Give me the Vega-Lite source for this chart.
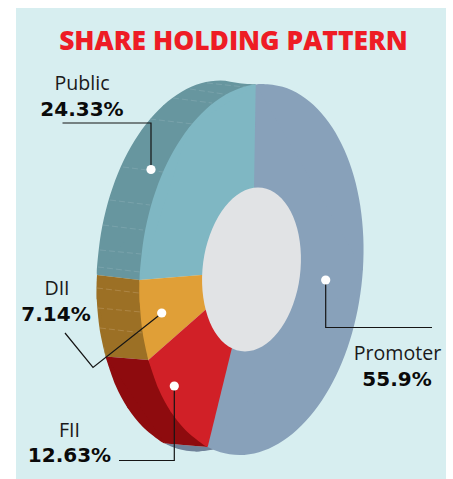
{"$schema":"https://vega.github.io/schema/vega-lite/v6.json","width":453,"height":479,"padding":0,"autosize":{"type":"none"},"background":"#ffffff","config":{"view":{"stroke":null}},
"datasets":{
"sideArcs":[
{"part":"side promoter","x":164.7,"y":443.5},{"part":"side promoter","x":177.4,"y":448.7},{"part":"side promoter","x":196.5,"y":451.5},{"part":"side promoter","x":216,"y":448.7},
{"part":"side public","x":97,"y":275},{"part":"side public","x":97.1,"y":266},{"part":"side public","x":100.9,"y":233.8},{"part":"side public","x":107.9,"y":202.6},{"part":"side public","x":118,"y":173.25},{"part":"side public","x":130.9,"y":146.8},{"part":"side public","x":146.1,"y":123.9},{"part":"side public","x":163.2,"y":105.4},{"part":"side public","x":181.7,"y":91.7},{"part":"side public","x":201,"y":83.3},{"part":"side public","x":220.5,"y":80.5},{"part":"side public","x":239.6,"y":83.3},{"part":"side public","x":255.7,"y":84.4},
{"part":"side dii","x":97,"y":275},{"part":"side dii","x":96.7,"y":298.2},{"part":"side dii","x":99.7,"y":329.4},{"part":"side dii","x":105.5,"y":356.5},
{"part":"side fii","x":105.5,"y":356.5},{"part":"side fii","x":115.5,"y":385.2},{"part":"side fii","x":127.7,"y":408.1},{"part":"side fii","x":142.4,"y":426.6},{"part":"side fii","x":159.1,"y":440.3},{"part":"side fii","x":165,"y":443.5}
],
"sideWedges":[
{"part":"side promoter","x":164.7,"y":443.5},{"part":"side promoter","x":196.5,"y":451.5},{"part":"side promoter","x":216,"y":448.7},{"part":"side promoter","x":230,"y":440},{"part":"side promoter","x":207.7,"y":447},
{"part":"side public","x":97,"y":275},{"part":"side public","x":163.2,"y":105.4},{"part":"side public","x":255.7,"y":84.4},{"part":"side public","x":255,"y":110},{"part":"side public","x":139.6,"y":280},
{"part":"side dii","x":97,"y":275},{"part":"side dii","x":96.7,"y":298.2},{"part":"side dii","x":105.5,"y":356.5},{"part":"side dii","x":148.4,"y":360},{"part":"side dii","x":139.6,"y":280},
{"part":"side fii","x":105.5,"y":356.5},{"part":"side fii","x":127.7,"y":408.1},{"part":"side fii","x":165,"y":443.5},{"part":"side fii","x":207.7,"y":447},{"part":"side fii","x":148.4,"y":360}
],
"frontArcs":[
{"part":"Promoter","x":255.7,"y":84.4},{"part":"Promoter","x":263.5,"y":84},{"part":"Promoter","x":282.6,"y":86.8},{"part":"Promoter","x":300.9,"y":95.2},{"part":"Promoter","x":317.6,"y":108.9},{"part":"Promoter","x":332.3,"y":127.4},{"part":"Promoter","x":344.5,"y":150.3},{"part":"Promoter","x":354,"y":176.75},{"part":"Promoter","x":360.3,"y":206.1},{"part":"Promoter","x":363.3,"y":237.3},{"part":"Promoter","x":362.9,"y":269.5},{"part":"Promoter","x":359.1,"y":301.7},{"part":"Promoter","x":352.1,"y":332.9},{"part":"Promoter","x":342,"y":362.25},{"part":"Promoter","x":329.1,"y":388.7},{"part":"Promoter","x":313.9,"y":411.6},{"part":"Promoter","x":296.8,"y":430.1},{"part":"Promoter","x":278.3,"y":443.8},{"part":"Promoter","x":259,"y":452.2},{"part":"Promoter","x":239.5,"y":455},{"part":"Promoter","x":220.4,"y":452.2},{"part":"Promoter","x":207.7,"y":447},
{"part":"Public","x":139.6,"y":280},{"part":"Public","x":140.1,"y":269.5},{"part":"Public","x":143.9,"y":237.3},{"part":"Public","x":150.9,"y":206.1},{"part":"Public","x":161,"y":176.75},{"part":"Public","x":173.9,"y":150.3},{"part":"Public","x":189.1,"y":127.4},{"part":"Public","x":206.2,"y":108.9},{"part":"Public","x":224.7,"y":95.2},{"part":"Public","x":244,"y":86.8},{"part":"Public","x":255.7,"y":84.4},
{"part":"DII","x":148.4,"y":360},{"part":"DII","x":142.7,"y":332.9},{"part":"DII","x":139.7,"y":301.7},{"part":"DII","x":139.6,"y":280},
{"part":"FII","x":207.7,"y":447},{"part":"FII","x":202.1,"y":443.8},{"part":"FII","x":185.4,"y":430.1},{"part":"FII","x":170.7,"y":411.6},{"part":"FII","x":158.5,"y":388.7},{"part":"FII","x":148.4,"y":360}
],
"frontWedges":[
{"part":"Promoter","x":255.7,"y":84.4},{"part":"Promoter","x":362.9,"y":269.5},{"part":"Promoter","x":207.7,"y":447},{"part":"Promoter","x":240,"y":315},{"part":"Promoter","x":252.5,"y":280},{"part":"Promoter","x":254,"y":188},
{"part":"Public","x":139.6,"y":280},{"part":"Public","x":189.1,"y":127.4},{"part":"Public","x":255.7,"y":84.4},{"part":"Public","x":254,"y":188},{"part":"Public","x":252.5,"y":280},{"part":"Public","x":220,"y":273.5},
{"part":"DII","x":148.4,"y":360},{"part":"DII","x":139.7,"y":301.7},{"part":"DII","x":139.6,"y":280},{"part":"DII","x":220,"y":273.5},{"part":"DII","x":220,"y":297},
{"part":"FII","x":207.7,"y":447},{"part":"FII","x":170.7,"y":411.6},{"part":"FII","x":148.4,"y":360},{"part":"FII","x":220,"y":297},{"part":"FII","x":240,"y":315}
],
"hole":[{"x":258,"y":187.5},{"x":274.4,"y":192.4},{"x":288,"y":206.7},{"x":297.2,"y":228.5},{"x":300.9,"y":255.3},{"x":298.7,"y":283.7},{"x":290.7,"y":310.5},{"x":278,"y":332.3},{"x":262.2,"y":346.6},{"x":245,"y":351.5},{"x":228.6,"y":346.6},{"x":215,"y":332.3},{"x":205.9,"y":310.5},{"x":202.1,"y":283.7},{"x":204.3,"y":255.3},{"x":212.4,"y":228.5},{"x":225,"y":206.7},{"x":240.8,"y":192.4}],
"stripes":[
{"s":"public","x":207,"y":83,"x2":245,"y2":87},{"s":"public","x":190,"y":89,"x2":230,"y2":95},{"s":"public","x":173,"y":98,"x2":212,"y2":103},{"s":"public","x":150,"y":119,"x2":193,"y2":124},{"s":"public","x":123,"y":167,"x2":163,"y2":172},{"s":"public","x":110,"y":200,"x2":150,"y2":205},{"s":"public","x":103,"y":225,"x2":143,"y2":230},{"s":"public","x":100,"y":250,"x2":141,"y2":254},{"s":"public","x":98,"y":267,"x2":140,"y2":272},
{"s":"dii","x":97,"y":288,"x2":139,"y2":293},{"s":"dii","x":98,"y":308,"x2":141,"y2":312},{"s":"dii","x":100,"y":328,"x2":143,"y2":333}
],
"leaders":[
{"name":"Public","x":62.5,"y":123},{"name":"Public","x":151,"y":123},{"name":"Public","x":151,"y":170},
{"name":"DII","x":65,"y":333},{"name":"DII","x":93,"y":367.5},{"name":"DII","x":162,"y":313},
{"name":"FII","x":119,"y":460.5},{"name":"FII","x":174.3,"y":460.5},{"name":"FII","x":174.3,"y":386},
{"name":"Promoter","x":432,"y":327.5},{"name":"Promoter","x":325.7,"y":327.5},{"name":"Promoter","x":325.7,"y":280}
],
"dots":[{"name":"Public","x":151,"y":169.5},{"name":"DII","x":161.7,"y":313},{"name":"FII","x":174.3,"y":386},{"name":"Promoter","x":325.7,"y":280}],
"names":[{"t":"Public","x":82,"y":90},{"t":"DII","x":57,"y":295},{"t":"FII","x":69.5,"y":437},{"t":"Promoter","x":397.5,"y":360}],
"values":[{"t":"24.33%","x":82,"y":116},{"t":"7.14%","x":56,"y":321},{"t":"12.63%","x":69.5,"y":462},{"t":"55.9%","x":397,"y":386}]
},
"encoding":{
"x":{"field":"x","type":"quantitative","scale":{"domain":[0,453],"range":[0,453]},"axis":null},
"y":{"field":"y","type":"quantitative","scale":{"domain":[0,479],"range":[0,479]},"axis":null}
},
"layer":[
{"data":{"values":[{"x":16,"x2":446,"y":8,"y2":479}]},"mark":{"type":"rect","fill":"#d7eef0"},"encoding":{"x2":{"field":"x2"},"y2":{"field":"y2"}}},
{"data":{"name":"sideWedges"},"mark":{"type":"line","strokeWidth":0,"interpolate":"linear"},"encoding":{"order":{"value":null},"detail":{"field":"part"},"fill":{"field":"part","type":"nominal","legend":null,"scale":{"domain":["side promoter","side public","side dii","side fii","Promoter","Public","DII","FII"],"range":["#6f8299","#67969f","#9c7025","#8e0b0e","#88a1ba","#7fb7c3","#e09f37","#d12027"]}}}},
{"data":{"name":"sideArcs"},"mark":{"type":"line","strokeWidth":0,"interpolate":"cardinal","tension":0},"encoding":{"order":{"value":null},"detail":{"field":"part"},"fill":{"field":"part","type":"nominal","legend":null,"scale":{"domain":["side promoter","side public","side dii","side fii","Promoter","Public","DII","FII"],"range":["#6f8299","#67969f","#9c7025","#8e0b0e","#88a1ba","#7fb7c3","#e09f37","#d12027"]}}}},
{"data":{"name":"stripes"},"mark":{"type":"rule","strokeWidth":0.6,"strokeDash":[6,3]},"encoding":{"x2":{"field":"x2"},"y2":{"field":"y2"},"color":{"field":"s","type":"nominal","legend":null,"scale":{"domain":["public","dii"],"range":["#85aab2","#b8945a"]}}}},
{"data":{"name":"frontArcs"},"mark":{"type":"line","strokeWidth":0,"interpolate":"cardinal","tension":0},"encoding":{"order":{"value":null},"detail":{"field":"part"},"fill":{"field":"part","type":"nominal","legend":null,"scale":{"domain":["side promoter","side public","side dii","side fii","Promoter","Public","DII","FII"],"range":["#6f8299","#67969f","#9c7025","#8e0b0e","#88a1ba","#7fb7c3","#e09f37","#d12027"]}}}},
{"data":{"name":"frontWedges"},"mark":{"type":"line","strokeWidth":0,"interpolate":"linear"},"encoding":{"order":{"value":null},"detail":{"field":"part"},"fill":{"field":"part","type":"nominal","legend":null,"scale":{"domain":["side promoter","side public","side dii","side fii","Promoter","Public","DII","FII"],"range":["#6f8299","#67969f","#9c7025","#8e0b0e","#88a1ba","#7fb7c3","#e09f37","#d12027"]}}}},
{"data":{"name":"hole"},"mark":{"type":"line","fill":"#e1e3e5","strokeWidth":0,"interpolate":"cardinal-closed","tension":0},"encoding":{"order":{"value":null}}},
{"data":{"name":"leaders"},"mark":{"type":"line","color":"#151515","strokeWidth":1.2},"encoding":{"order":{"value":null},"detail":{"field":"name"}}},
{"data":{"name":"dots"},"mark":{"type":"point","filled":true,"opacity":1,"color":"#ffffff","size":85}},
{"data":{"values":[{"t":"SHARE HOLDING PATTERN","x":233.5,"y":50}]},"mark":{"type":"text","font":"Open Sans","fontWeight":800,"fontSize":26.4,"color":"#ee1c25","align":"center","baseline":"alphabetic"},"encoding":{"text":{"field":"t"}}},
{"data":{"name":"names"},"mark":{"type":"text","font":"Open Sans","fontSize":19.6,"color":"#1a1a1a","align":"center","baseline":"alphabetic"},"encoding":{"text":{"field":"t"}}},
{"data":{"name":"values"},"mark":{"type":"text","font":"DejaVu Sans","fontWeight":"bold","fontSize":20,"color":"#0a0a0a","align":"center","baseline":"alphabetic"},"encoding":{"text":{"field":"t"}}}
]}
